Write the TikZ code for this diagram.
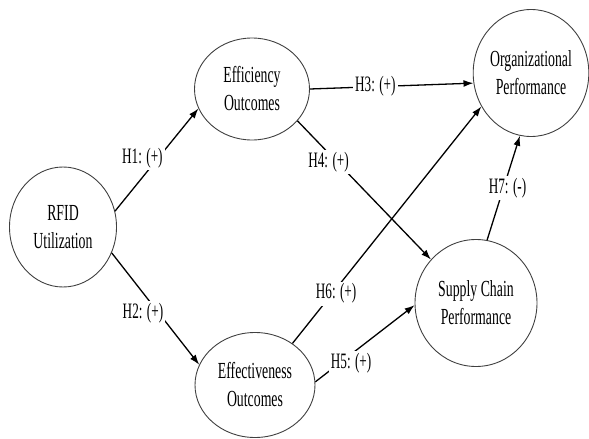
\documentclass[tikz,border=0pt]{standalone}
\usepackage{fontspec}
\setmainfont{Liberation Serif}[FakeStretch=0.6]
\usetikzlibrary{arrows.meta}
\usetikzlibrary{shapes.geometric}
\usetikzlibrary{positioning}

\tikzset{
  construct/.style={ellipse, draw=black!75, line width=0.9pt, inner sep=0pt,
    align=center, font=\fontsize{23}{28}\selectfont},
  hyp/.style={-{Latex[length=10pt,width=7pt]}, line width=1.3pt},
  hyplabel/.style={fill=white, inner sep=2pt, font=\fontsize{22}{24}\selectfont}
}

\begin{document}
\begin{tikzpicture}[x=1pt,y=-1pt]
    \useasboundingbox (0,0) rectangle (589,439);

    \node[construct, minimum width=107pt, minimum height=120pt] (rfid) at (63,227) {RFID\\Utilization};
    \node[construct, minimum width=115pt, minimum height=102pt] (eff) at (252,89) {Efficiency\\Outcomes};
    \node[construct, minimum width=120pt, minimum height=105pt] (effect) at (255,385) {Effectiveness\\Outcomes};
    \node[construct, minimum width=113pt, minimum height=127pt] (org) at (531,73) {Organizational\\Performance};
    \node[construct, minimum width=122pt, minimum height=127pt] (sc) at (476,303) {Supply Chain\\Performance};

    % hypotheses
    \draw[hyp] (rfid.17) -- node[hyplabel, pos=0.52, xshift=-16pt] {H1: (+)} (eff.200);
    \draw[hyp] (rfid.-28) -- node[hyplabel, pos=0.54, xshift=-16pt] {H2: (+)} (effect.160);
    \draw[hyp] (eff.0) -- node[hyplabel, pos=0.4] {H3: (+)} (org.190);
    \draw[hyp] (effect.48) -- node[hyplabel, pos=0.21, xshift=4pt] {H6: (+)} (org.214);
    \draw[hyp] (eff.-35) -- node[hyplabel, pos=0.3, xshift=-9pt] {H4: (+)} (sc.136);
    \draw[hyp] (effect.3) -- node[hyplabel, pos=0.3, xshift=6pt, yshift=-4pt] {H5: (+)} (sc.182);
    \draw[hyp] (sc.80) -- node[hyplabel, pos=0.5, xshift=4pt] {H7: (-)} (org.260);
\end{tikzpicture}
\end{document}
